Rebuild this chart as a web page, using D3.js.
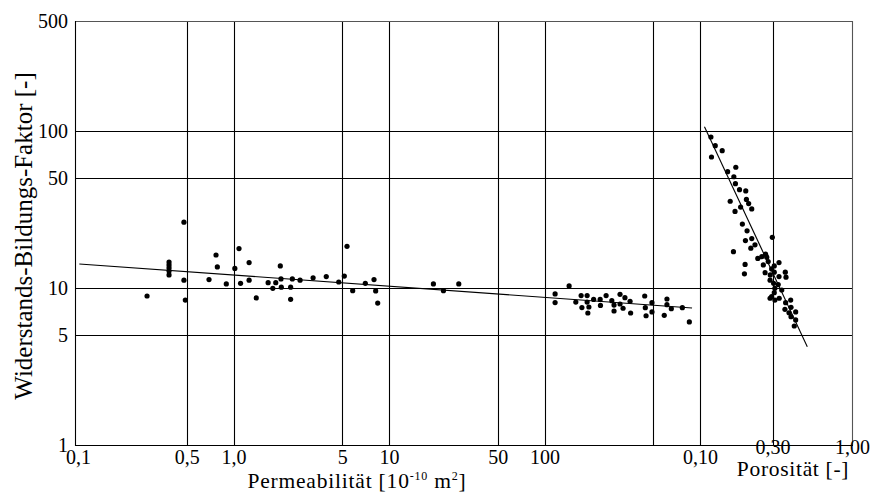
<!DOCTYPE html>
<html><head><meta charset="utf-8">
<script src="https://cdn.jsdelivr.net/npm/d3@7"></script>
<style>body{margin:0;background:#fff}svg{display:block}svg text{font-family:'Liberation Serif','DejaVu Serif','Times New Roman',serif}</style>
</head><body>
<script>
// ---- data ----
const yTicks = [1, 5, 10, 50, 100, 500];
const yTickLabels = ["1", "5", "10", "50", "100", "500"];
const yGrid = [5, 10, 50, 100];
const permTicks = [0.1, 0.5, 1, 5, 10, 50, 100];
const permTickLabels = ["0,1", "0,5", "1,0", "5", "10", "50", "100"];
const permGrid = [0.5, 1, 5, 10, 50, 100, 500, 1000];
const poroTicks = [0.1, 0.3, 1.0];
const poroTickLabels = ["0,10", "0,30", "1,00"];
const poroGrid = [0.3];

const permX = [0.278, 0.480, 0.385, 0.385, 0.385, 0.385, 0.385, 0.480, 0.490, 0.696, 0.772, 0.787, 0.899, 1.02, 1.085, 1.11, 1.26, 1.26, 1.40, 1.67, 1.79, 1.87, 2.00, 2.02, 2.03, 2.33, 2.33, 2.39, 2.68, 3.25, 3.95, 4.75, 5.16, 5.37, 5.84, 7.04, 8.01, 8.21, 8.46, 19.3, 22.4, 28.1,
  117, 117, 144, 159, 172, 174, 188, 188, 193, 190, 207, 228, 229, 249, 271, 280, 280, 306, 306, 320, 329, 355, 358, 441, 445, 450, 491, 491, 589, 613, 613, 654, 770, 854];
const permY = [8.88, 26.2, 14.6, 14.0, 13.4, 12.8, 12.1, 11.2, 8.37, 11.3, 16.2, 13.6, 10.6, 13.3, 17.8, 10.7, 14.5, 11.2, 8.63, 10.8, 9.94, 10.8, 13.8, 11.4, 10.1, 10.1, 8.46, 11.4, 11.2, 11.6, 11.8, 10.9, 11.9, 18.4, 9.60, 10.7, 11.3, 9.56, 8.01, 10.6, 9.60, 10.6,
  9.15, 8.07, 10.3, 8.13, 8.94, 7.50, 8.94, 8.13, 7.56, 6.92, 8.44, 8.44, 7.73, 8.94, 8.29, 7.78, 7.13, 9.10, 7.90, 7.42, 8.66, 8.22, 6.92, 8.88, 7.48, 6.65, 8.05, 7.03, 6.69, 8.50, 7.82, 7.37, 7.48, 6.07];

const poroX = [0.118, 0.126, 0.140, 0.119, 0.172, 0.152, 0.167, 0.171, 0.182, 0.200, 0.202, 0.158, 0.185, 0.209, 0.219, 0.170, 0.190, 0.204, 0.219, 0.199, 0.230, 0.299, 0.216, 0.166, 0.198, 0.196, 0.240, 0.255, 0.270, 0.275, 0.261, 0.281, 0.296, 0.308, 0.331, 0.268, 0.290, 0.308, 0.331, 0.364, 0.368, 0.289, 0.305, 0.327, 0.311, 0.345, 0.308, 0.296, 0.289, 0.311, 0.332, 0.366, 0.395, 0.362, 0.397, 0.385, 0.426, 0.397, 0.426, 0.417];
const poroY = [91.3, 80.4, 74.7, 68.1, 58.6, 54.9, 51.0, 46.1, 42.2, 41.4, 36.6, 35.6, 32.7, 34.4, 31.8, 30.7, 25.5, 23.1, 20.6, 20.0, 18.8, 21.0, 17.9, 17.0, 14.1, 12.3, 15.4, 15.8, 16.4, 15.7, 14.0, 14.7, 13.2, 13.8, 14.5, 12.5, 12.1, 12.6, 11.8, 12.6, 11.7, 11.2, 10.7, 10.5, 9.94, 9.70, 9.32, 8.79, 8.59, 8.37, 8.59, 8.05, 8.37, 7.31, 7.52, 6.95, 7.03, 6.56, 6.25, 5.72];

const permLineX = [0.102, 889];
const permLineY = [14.2, 7.45];
const poroLineX = [0.107, 0.508];
const poroLineY = [106, 4.22];

// ---- layout ----
const W = 875, H = 493;
const pL = 75, pR = 852, pT = 21, pB = 445;
const FONT = "'Liberation Serif','DejaVu Serif','Times New Roman',serif";
const px = v => Math.round(v) + 0.5;

const svg = d3.select("body").append("svg").attr("width", W).attr("height", H);

const y = d3.scaleLog().domain([1, 500]).range([pB, pT]);
const xPerm = d3.scaleLog().domain([0.1, 1000]).range([78, 700]);
const xPoro = d3.scaleLog().domain([0.1, 1]).range([700, pR]);

// grid
const g = svg.append("g").attr("stroke", "#000").attr("stroke-width", 1.1);
g.selectAll("line.h").data(yGrid).join("line").attr("class", "h")
  .attr("x1", pL).attr("x2", pR).attr("y1", d => px(y(d))).attr("y2", d => px(y(d)));
g.selectAll("line.vp").data(permGrid).join("line").attr("class", "vp")
  .attr("x1", d => px(xPerm(d))).attr("x2", d => px(xPerm(d))).attr("y1", pT).attr("y2", pB);
g.selectAll("line.vo").data(poroGrid).join("line").attr("class", "vo")
  .attr("x1", d => px(xPoro(d))).attr("x2", d => px(xPoro(d))).attr("y1", pT).attr("y2", pB);
// frame
g.append("line").attr("x1", pL).attr("x2", pR).attr("y1", pT + 0.5).attr("y2", pT + 0.5).attr("stroke", "#555");
g.append("line").attr("x1", pR + 0.5).attr("x2", pR + 0.5).attr("y1", pT).attr("y2", pB).attr("stroke", "#555");
g.append("line").attr("x1", pL + 0.5).attr("x2", pL + 0.5).attr("y1", pT).attr("y2", pB + 1);
g.append("line").attr("x1", pL).attr("x2", pR + 1).attr("y1", pB + 0.5).attr("y2", pB + 0.5);

// axes (labels only)
const yAxis = svg.append("g").attr("transform", `translate(${pL},0)`)
  .call(d3.axisLeft(y).tickValues(yTicks).tickFormat((d, i) => yTickLabels[i]).tickSize(0).tickPadding(7));
const xAxisP = svg.append("g").attr("transform", `translate(0,${pB})`)
  .call(d3.axisBottom(xPerm).tickValues(permTicks).tickFormat((d, i) => permTickLabels[i]).tickSize(0).tickPadding(5));
const xAxisO = svg.append("g").attr("transform", `translate(0,${pB})`)
  .call(d3.axisBottom(xPoro).tickValues(poroTicks).tickFormat((d, i) => poroTickLabels[i]).tickSize(0).tickPadding(5));
[yAxis, xAxisP, xAxisO].forEach(a => {
  a.attr("font-family", FONT).attr("font-size", 20);
  a.select(".domain").remove();
  a.selectAll("text").attr("fill", "#000");
});
xAxisO.selectAll(".tick text").attr("y", (d, i) => i === 0 ? 5 : -5);

// fit lines
const line = svg.append("g").attr("stroke", "#000").attr("stroke-width", 1.1).attr("fill", "none");
line.append("line").attr("x1", xPerm(permLineX[0])).attr("y1", y(permLineY[0]))
  .attr("x2", xPerm(permLineX[1])).attr("y2", y(permLineY[1]));
line.append("line").attr("x1", xPoro(poroLineX[0])).attr("y1", y(poroLineY[0]))
  .attr("x2", xPoro(poroLineX[1])).attr("y2", y(poroLineY[1]));

// points
svg.append("g").selectAll("circle").data(permX.map((v, i) => [v, permY[i]])).join("circle")
  .attr("cx", d => xPerm(d[0])).attr("cy", d => y(d[1])).attr("r", 2.6).attr("fill", "#000");
svg.append("g").selectAll("circle").data(poroX.map((v, i) => [v, poroY[i]])).join("circle")
  .attr("cx", d => xPoro(d[0])).attr("cy", d => y(d[1])).attr("r", 2.6).attr("fill", "#000");

// titles
svg.append("text").attr("transform", "translate(32,236) rotate(-90)").attr("text-anchor", "middle")
  .attr("font-family", FONT).attr("font-size", 25).text("Widerstands-Bildungs-Faktor [-]");
const xt = svg.append("text").attr("x", 357).attr("y", 488).attr("text-anchor", "middle")
  .attr("font-family", FONT).attr("font-size", 21.5).attr("letter-spacing", 0.8);
xt.append("tspan").text("Permeabilität [10");
xt.append("tspan").attr("font-size", 12).attr("dy", -8).text("-10");
xt.append("tspan").attr("dy", 8).text(" m");
xt.append("tspan").attr("font-size", 12).attr("dy", -8).text("2");
xt.append("tspan").attr("dy", 8).text("]");
svg.append("text").attr("x", 793).attr("y", 476).attr("text-anchor", "middle")
  .attr("font-family", FONT).attr("font-size", 21.5).attr("letter-spacing", 0.7).text("Porosität [-]");
</script>
</body></html>
